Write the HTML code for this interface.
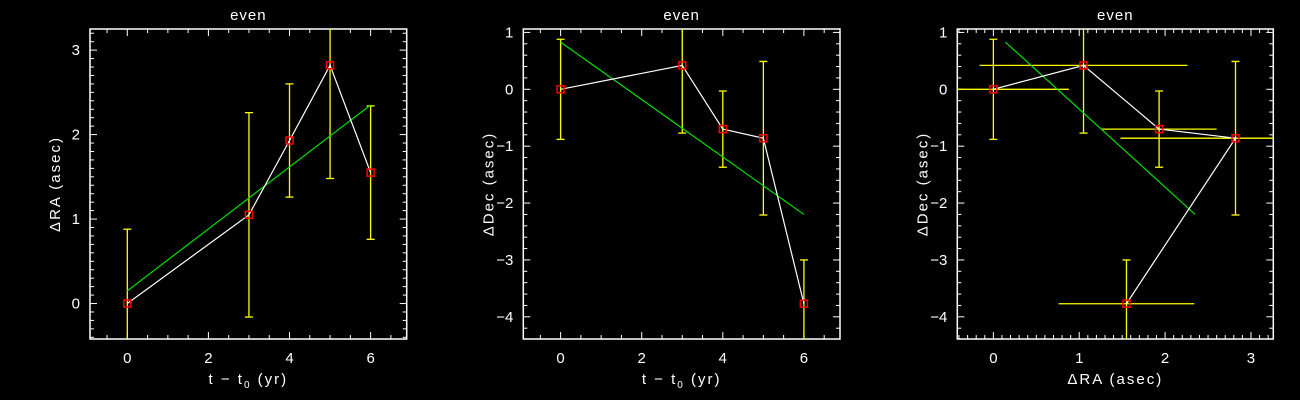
<!DOCTYPE html>
<html><head><meta charset="utf-8"><style>
html,body{margin:0;padding:0;background:#000;}
svg{display:block;font-family:"Liberation Sans","DejaVu Sans",sans-serif;}
</style></head><body>
<svg id="chart" width="1300" height="400" viewBox="0 0 1300 400" xmlns="http://www.w3.org/2000/svg">
<rect width="1300" height="400" fill="#000"/>
</svg>
<script>
const times = [0, 3, 4, 5, 6];
const dRA = [0, 1.05, 1.93, 2.82, 1.55];
const dRAErr = [0.88, 1.21, 0.67, 1.34, 0.79];
const dDec = [0, 0.42, -0.70, -0.86, -3.77];
const dDecErr = [0.88, 1.19, 0.67, 1.35, 0.77];
const fitRA = [0.15, 2.35];
const fitDec = [0.83, -2.2];
const fitT = [0, 6];
const xTicksT = [0, 2, 4, 6];
const yTicksRA = [0, 1, 2, 3];
const yTicksDec = [1, 0, -1, -2, -3, -4];
const xTicksRA = [0, 1, 2, 3];
const fitRAx = [0.14, 2.35];

const NS = "http://www.w3.org/2000/svg";
const svg = document.getElementById('chart');
function mk(tag, attrs, parent) {
  const e = document.createElementNS(NS, tag);
  for (const k in attrs) e.setAttribute(k, attrs[k]);
  (parent || svg).appendChild(e);
  return e;
}
function fmt(v){ return v < 0 ? '\u2212' + Math.abs(v) : String(v); }

function panel(cfg) {
  const g = mk('g', {});
  
  
  const L = cfg.box[0], R = cfg.box[1], T = 29, B = 339;
  const sx = v => L + (v - cfg.xr[0]) / (cfg.xr[1] - cfg.xr[0]) * (R - L);
  const sy = v => B - (v - cfg.yr[0]) / (cfg.yr[1] - cfg.yr[0]) * (B - T);
  const clipId = cfg.name + '-clip';
  const defs = mk('defs', {}, g);
  const cp = mk('clipPath', {id: clipId}, defs);
  mk('rect', {x: L, y: T, width: R - L, height: B - T}, cp);

  const frame = mk('rect', {x: L, y: T, width: R - L, height: B - T, fill: 'none', stroke: '#fff', 'stroke-width': 1.5}, g);
  
  

  const tg = mk('g', {stroke: '#fff', 'stroke-width': 1}, g);
  
  
  const eps = 1e-6;
  for (let v = Math.ceil(cfg.xr[0] / cfg.xMinor) * cfg.xMinor; v <= cfg.xr[1] + eps; v += cfg.xMinor) {
    const isMaj = Math.abs(v / cfg.xMajor - Math.round(v / cfg.xMajor)) < 1e-4;
    const len = isMaj ? 7 : 4; const x = sx(v);
    mk('line', {x1: x, x2: x, y1: B, y2: B - len}, tg);
    mk('line', {x1: x, x2: x, y1: T, y2: T + len}, tg);
  }
  for (let v = Math.ceil(cfg.yr[0] / cfg.yMinor) * cfg.yMinor; v <= cfg.yr[1] + eps; v += cfg.yMinor) {
    const isMaj = Math.abs(v / cfg.yMajor - Math.round(v / cfg.yMajor)) < 1e-4;
    const len = isMaj ? 7 : 4; const y = sy(v);
    mk('line', {x1: L, x2: L + len, y1: y, y2: y}, tg);
    mk('line', {x1: R, x2: R - len, y1: y, y2: y}, tg);
  }
  cfg.xTicks.forEach(v => {
    const t = mk('text', {x: sx(v), y: 363, fill: '#fff', 'font-size': 15, 'text-anchor': 'middle'}, g);
    t.textContent = fmt(v);
    
    
  });
  cfg.yTicks.forEach(v => {
    const t = mk('text', {x: L - 10, y: sy(v) + 5, fill: '#fff', 'font-size': 15, 'text-anchor': 'end'}, g);
    t.textContent = fmt(v);
    
    
  });
  const title = mk('text', {x: (L + R) / 2, y: 20, fill: '#fff', 'font-size': 15, 'text-anchor': 'middle', 'letter-spacing': 1}, g);
  title.textContent = 'even';
  
  
  const xt = mk('text', {x: (L + R) / 2, y: 384, fill: '#fff', 'font-size': 15, 'text-anchor': 'middle', 'letter-spacing': 2}, g);
  xt.innerHTML = cfg.xTitle;
  
  
  const yx = L - 30, yy = (T + B) / 2;
  const yt = mk('text', {x: yx, y: yy, fill: '#fff', 'font-size': 15, 'text-anchor': 'middle', 'letter-spacing': 2, transform: `rotate(-90 ${yx} ${yy})`}, g);
  yt.textContent = cfg.yTitle;
  
  

  const pg = mk('g', {'clip-path': `url(#${clipId})`}, g);
  cfg.xs.forEach((xv, i) => {
    const x = sx(xv), y = sy(cfg.ys[i]);
    const ye = cfg.yErr[i];
    const eb = mk('g', {stroke: '#ffff00', 'stroke-width': 1.3}, pg);
    
    
    const y1 = sy(cfg.ys[i] + ye), y2 = sy(cfg.ys[i] - ye);
    mk('line', {x1: x, x2: x, y1: y1, y2: y2}, eb);
    mk('line', {x1: x - 4, x2: x + 4, y1: y1, y2: y1}, eb);
    mk('line', {x1: x - 4, x2: x + 4, y1: y2, y2: y2}, eb);
    if (cfg.xErr) {
      const xe = cfg.xErr[i];
      mk('line', {x1: sx(xv - xe), x2: sx(xv + xe), y1: y, y2: y}, eb);
    }
  });
  const fl = mk('line', {x1: sx(cfg.fitX[0]), y1: sy(cfg.fitY[0]), x2: sx(cfg.fitX[1]), y2: sy(cfg.fitY[1]), stroke: '#00e000', 'stroke-width': 1.2}, pg);
  
  
  const pts = cfg.xs.map((xv, i) => sx(xv) + ',' + sy(cfg.ys[i])).join(' ');
  const dl = mk('polyline', {points: pts, fill: 'none', stroke: '#fff', 'stroke-width': 1.2}, pg);
  
  
  cfg.xs.forEach((xv, i) => {
    const m = mk('rect', {x: sx(xv) - 3.5, y: sy(cfg.ys[i]) - 3.5, width: 7, height: 7, fill: 'none', stroke: '#ff0000', 'stroke-width': 1.5}, pg);
    
    
  });
}

panel({name: 'panel-ra-vs-time', box: [90, 406.7], xr: [-0.92, 6.89], yr: [-0.42, 3.25],
  xMajor: 2, xMinor: 0.5, yMajor: 1, yMinor: 0.1, xTicks: xTicksT, yTicks: yTicksRA,
  xTitle: 't \u2212 t<tspan font-size="10" dy="4">0</tspan><tspan dy="-4"> (yr)</tspan>', yTitle: '\u0394RA (asec)',
  xs: times, ys: dRA, yErr: dRAErr, fitX: fitT, fitY: fitRA});
panel({name: 'panel-dec-vs-time', box: [523.3, 840], xr: [-0.92, 6.89], yr: [-4.39, 1.06],
  xMajor: 2, xMinor: 0.5, yMajor: 1, yMinor: 0.2, xTicks: xTicksT, yTicks: yTicksDec,
  xTitle: 't \u2212 t<tspan font-size="10" dy="4">0</tspan><tspan dy="-4"> (yr)</tspan>', yTitle: '\u0394Dec (asec)',
  xs: times, ys: dDec, yErr: dDecErr, fitX: fitT, fitY: fitDec});
panel({name: 'panel-dec-vs-ra', box: [957.3, 1273.3], xr: [-0.42, 3.26], yr: [-4.39, 1.06],
  xMajor: 1, xMinor: 0.1, yMajor: 1, yMinor: 0.2, xTicks: xTicksRA, yTicks: yTicksDec,
  xTitle: '\u0394RA (asec)', yTitle: '\u0394Dec (asec)',
  xs: dRA, ys: dDec, yErr: dDecErr, xErr: dRAErr, fitX: fitRAx, fitY: fitDec});
</script>
</body></html>
